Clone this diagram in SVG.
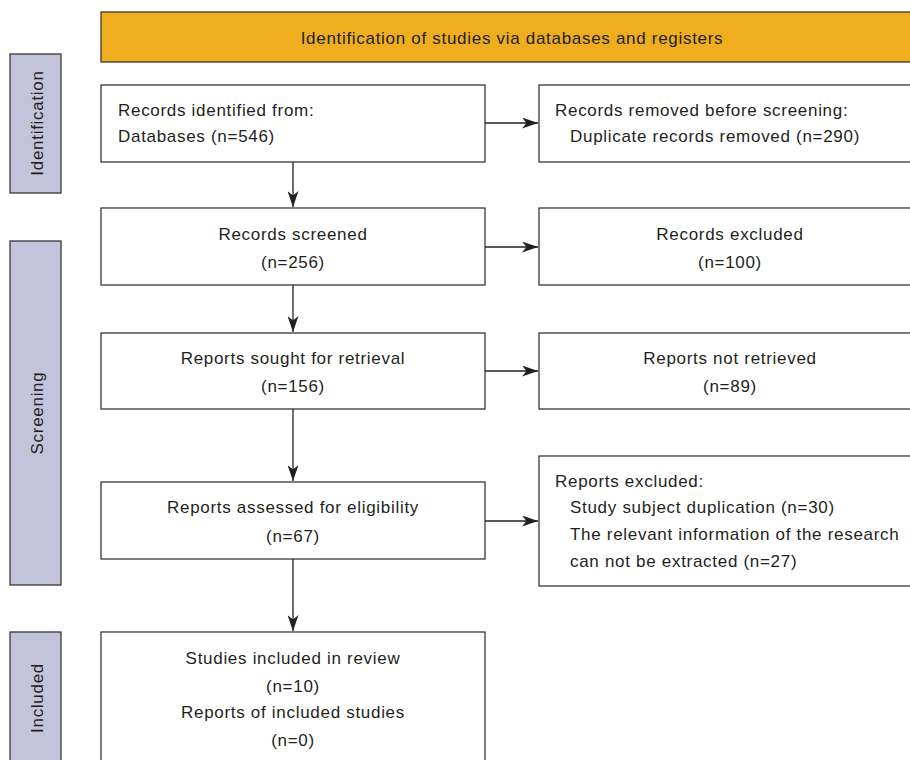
<svg xmlns="http://www.w3.org/2000/svg" width="910" height="760" viewBox="0 0 910 760">
<style>
text{font-family:"Liberation Sans",Arial,sans-serif;font-size:17px;letter-spacing:0.7px;fill:#231f20}
.box{fill:#fff;stroke:#3a3636;stroke-width:1.3}
.side{fill:#c3c4dc;stroke:#3a3636;stroke-width:1.3}
.banner{fill:#efae1e;stroke:#3a3636;stroke-width:1.3}
.c{text-anchor:middle}
.conn line{stroke:#231f20;stroke-width:1.3;fill:none}
</style>
<defs>
<marker id="ah" viewBox="0 0 16 11" refX="16" refY="5.5" markerWidth="16" markerHeight="11" markerUnits="userSpaceOnUse" orient="auto">
<path d="M0,0 L16,5.5 L0,11 L4.5,5.5 Z" fill="#231f20"/>
</marker>
</defs>
<rect width="910" height="760" fill="#fff"/>
<g id="banner"><rect class="banner" x="101" y="12" width="820" height="50"/><text class="c" x="512" y="44">Identification of studies via databases and registers</text></g>
<g id="side-identification"><rect class="side" x="10" y="54" width="51" height="139"/><text class="c" transform="translate(43,123) rotate(-90)">Identification</text></g>
<g id="side-screening"><rect class="side" x="10" y="241" width="51" height="344"/><text class="c" transform="translate(43,413) rotate(-90)">Screening</text></g>
<g id="side-included"><rect class="side" x="10" y="632" width="51" height="140"/><text class="c" transform="translate(43,698) rotate(-90)">Included</text></g>
<g id="n1"><rect class="box" x="101" y="85" width="384" height="77"/><text x="118" y="116">Records identified from:</text><text x="118" y="142">Databases (n=546)</text></g>
<g id="n1r"><rect class="box" x="539" y="85" width="380" height="77"/><text x="555" y="116">Records removed before screening:</text><text x="570" y="142">Duplicate records removed (n=290)</text></g>
<g id="n2"><rect class="box" x="101" y="208" width="384" height="77"/><text class="c" x="293" y="240">Records screened</text><text class="c" x="293" y="268">(n=256)</text></g>
<g id="n2r"><rect class="box" x="539" y="208" width="380" height="77"/><text class="c" x="730" y="240">Records excluded</text><text class="c" x="730" y="268">(n=100)</text></g>
<g id="n3"><rect class="box" x="101" y="333" width="384" height="76"/><text class="c" x="293" y="364">Reports sought for retrieval</text><text class="c" x="293" y="392">(n=156)</text></g>
<g id="n3r"><rect class="box" x="539" y="333" width="380" height="76"/><text class="c" x="730" y="364">Reports not retrieved</text><text class="c" x="730" y="392">(n=89)</text></g>
<g id="n4"><rect class="box" x="101" y="482" width="384" height="77"/><text class="c" x="293" y="513">Reports assessed for eligibility</text><text class="c" x="293" y="542">(n=67)</text></g>
<g id="n4r"><rect class="box" x="539" y="456" width="380" height="130"/><text x="555" y="487">Reports excluded:</text><text x="570" y="513">Study subject duplication (n=30)</text><text x="570" y="540">The relevant information of the research</text><text x="570" y="567">can not be extracted (n=27)</text></g>
<g id="n5"><rect class="box" x="101" y="632" width="384" height="140"/><text class="c" x="293" y="664">Studies included in review</text><text class="c" x="293" y="692">(n=10)</text><text class="c" x="293" y="718">Reports of included studies</text><text class="c" x="293" y="746">(n=0)</text></g>
<g id="connectors" class="conn">
<line x1="485" y1="123" x2="538" y2="123" marker-end="url(#ah)"/>
<line x1="485" y1="247" x2="538" y2="247" marker-end="url(#ah)"/>
<line x1="485" y1="371" x2="538" y2="371" marker-end="url(#ah)"/>
<line x1="485" y1="521" x2="538" y2="521" marker-end="url(#ah)"/>
<line x1="293" y1="162" x2="293" y2="207" marker-end="url(#ah)"/>
<line x1="293" y1="285" x2="293" y2="332" marker-end="url(#ah)"/>
<line x1="293" y1="409" x2="293" y2="481" marker-end="url(#ah)"/>
<line x1="293" y1="559" x2="293" y2="631" marker-end="url(#ah)"/>
</g>
</svg>
